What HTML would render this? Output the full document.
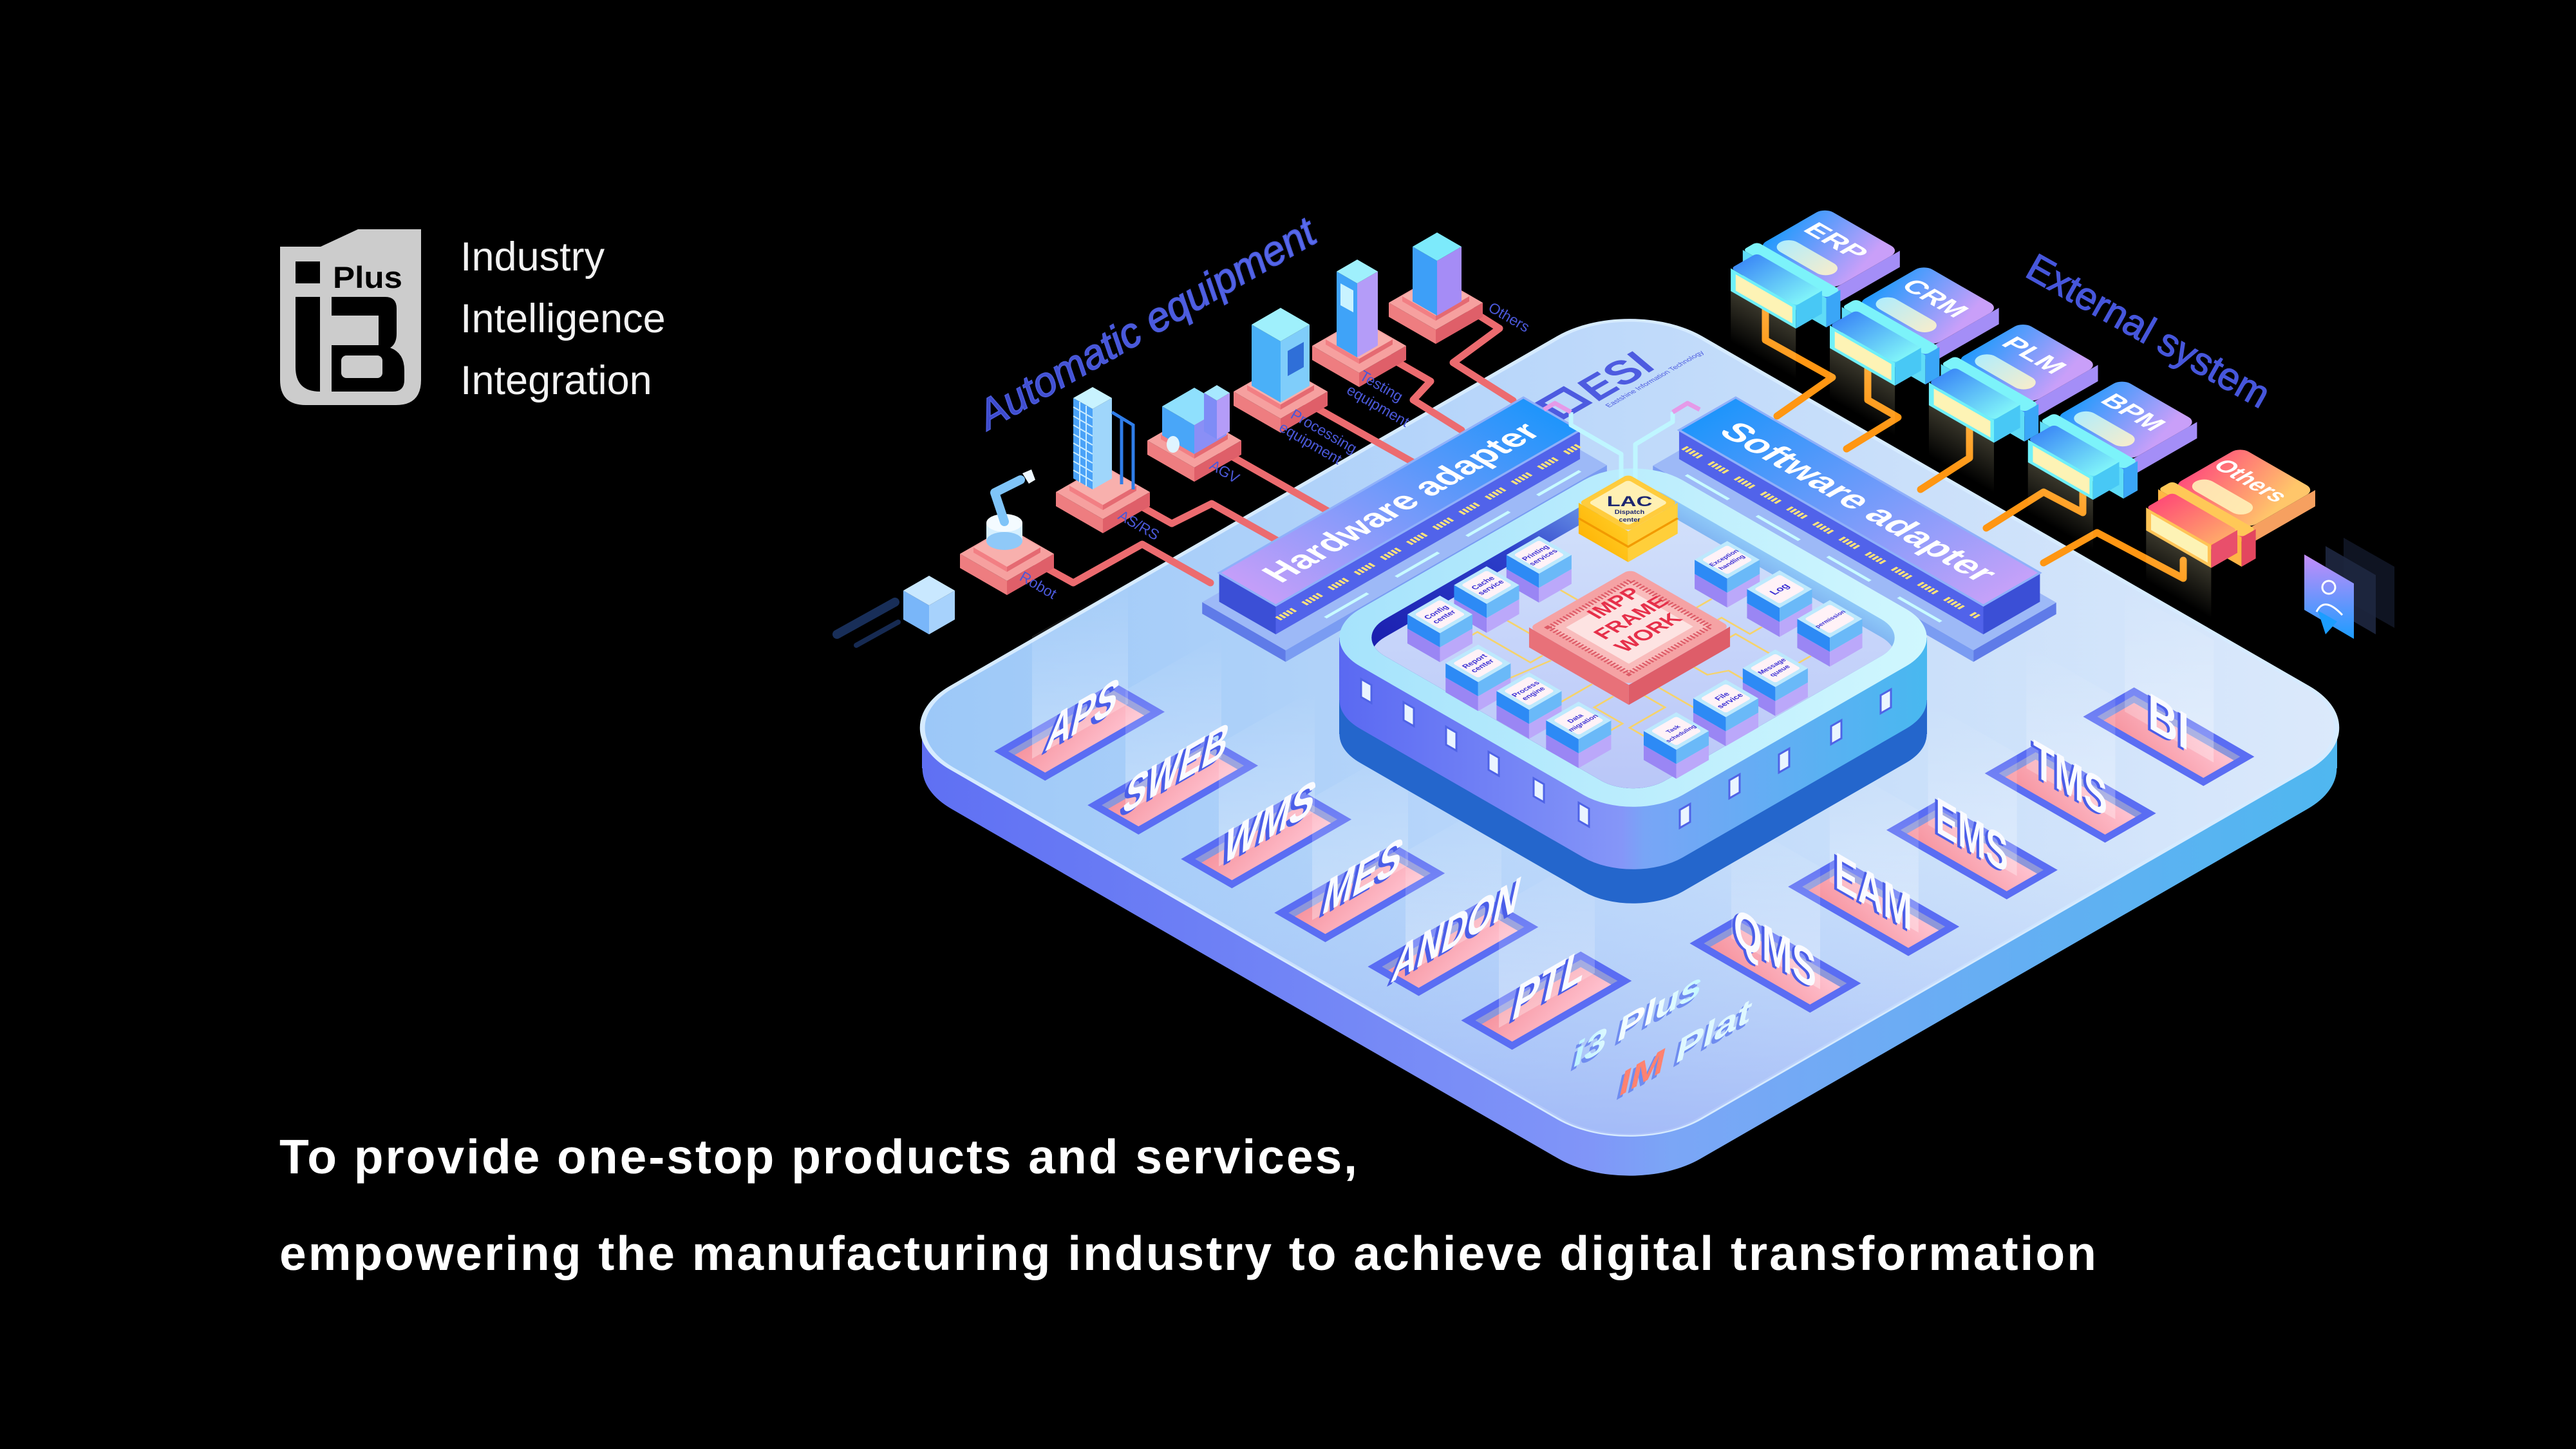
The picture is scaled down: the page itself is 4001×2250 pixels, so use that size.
<!DOCTYPE html>
<html><head><meta charset="utf-8"><title>i3 Plus</title>
<style>
html,body{margin:0;padding:0;background:#000;width:4001px;height:2250px;overflow:hidden}
svg{display:block}
text{font-family:"Liberation Sans",Arial,sans-serif}
</style></head><body>
<svg xmlns="http://www.w3.org/2000/svg" width="4001" height="2250" viewBox="0 0 4001 2250">
<defs>
<linearGradient id="platTop" gradientUnits="userSpaceOnUse" x1="0" y1="0" x2="1000" y2="1000"><stop offset="0" stop-color="#9cc8f8"/><stop offset="0.45" stop-color="#bcd8fa"/><stop offset="1" stop-color="#dbe9fb"/></linearGradient>
<linearGradient id="platB" gradientUnits="userSpaceOnUse" x1="0" y1="1000" x2="1000" y2="0"><stop offset="0" stop-color="#8ea2f6" stop-opacity="0.55"/><stop offset="0.35" stop-color="#a8c4f8" stop-opacity="0"/></linearGradient>
<linearGradient id="platSideP" gradientUnits="userSpaceOnUse" x1="0" y1="0" x2="1000" y2="1000"><stop offset="0" stop-color="#5f70f3"/><stop offset="0.47" stop-color="#8095f8"/><stop offset="0.53" stop-color="#7ba6f6"/><stop offset="1" stop-color="#4fb7f0"/></linearGradient>
<linearGradient id="platSideS" gradientUnits="userSpaceOnUse" x1="1432" y1="0" x2="3630" y2="0"><stop offset="0" stop-color="#5f70f3"/><stop offset="0.47" stop-color="#8095f8"/><stop offset="0.53" stop-color="#7ba6f6"/><stop offset="1" stop-color="#4fb7f0"/></linearGradient>
<linearGradient id="blkSideP" gradientUnits="userSpaceOnUse" x1="405" y1="184" x2="821" y2="600"><stop offset="0" stop-color="#5a69f2"/><stop offset="0.48" stop-color="#8596f8"/><stop offset="0.52" stop-color="#78a5f6"/><stop offset="1" stop-color="#48b8f0"/></linearGradient>
<linearGradient id="blkSideS" gradientUnits="userSpaceOnUse" x1="2080" y1="0" x2="2993" y2="0"><stop offset="0" stop-color="#5a69f2"/><stop offset="0.48" stop-color="#8596f8"/><stop offset="0.52" stop-color="#78a5f6"/><stop offset="1" stop-color="#48b8f0"/></linearGradient>
<linearGradient id="rim" gradientUnits="userSpaceOnUse" x1="385" y1="164" x2="841" y2="620"><stop offset="0" stop-color="#a4e2fc"/><stop offset="1" stop-color="#d2f8fe"/></linearGradient>
<linearGradient id="wall" x1="0" y1="0" x2="1" y2="0"><stop offset="0" stop-color="#1a1eae"/><stop offset="0.55" stop-color="#2d3fca"/><stop offset="1" stop-color="#8ec8f8"/></linearGradient>
<linearGradient id="floor" x1="0" y1="1" x2="1" y2="0"><stop offset="0" stop-color="#b7c4f8"/><stop offset="1" stop-color="#d3e2fb"/></linearGradient>
<linearGradient id="hwTop" x1="0" y1="0" x2="1" y2="0"><stop offset="0" stop-color="#c59ef9"/><stop offset="1" stop-color="#1e95fb"/></linearGradient>
<linearGradient id="swTop" x1="0" y1="0" x2="0" y2="1"><stop offset="0" stop-color="#1e95fb"/><stop offset="1" stop-color="#c6a1f9"/></linearGradient>
<linearGradient id="cardTop" x1="0" y1="0" x2="0.3" y2="1"><stop offset="0" stop-color="#1a9afd"/><stop offset="1" stop-color="#c99ff9"/></linearGradient>
<linearGradient id="othTop" x1="0" y1="0" x2="0.3" y2="1"><stop offset="0" stop-color="#ff4a7c"/><stop offset="1" stop-color="#ffc66a"/></linearGradient>
<linearGradient id="plugTop" x1="0" y1="0" x2="0" y2="1"><stop offset="0" stop-color="#3d8cf7"/><stop offset="1" stop-color="#80f4f9"/></linearGradient>
<linearGradient id="plugTopO" x1="0" y1="0" x2="0" y2="1"><stop offset="0" stop-color="#ff4d76"/><stop offset="1" stop-color="#ffa86a"/></linearGradient>
<linearGradient id="pill" x1="0" y1="0" x2="0" y2="1"><stop offset="0" stop-color="#bff6fb"/><stop offset="1" stop-color="#fff6c8"/></linearGradient>
<linearGradient id="pgl" x1="1" y1="0" x2="0" y2="0"><stop offset="0" stop-color="#fff5c0" stop-opacity="0.22"/><stop offset="1" stop-color="#fff5c0" stop-opacity="0"/></linearGradient>
<linearGradient id="pink" x1="0" y1="0" x2="1" y2="1"><stop offset="0" stop-color="#f6949f"/><stop offset="1" stop-color="#ffc3d1"/></linearGradient>
<linearGradient id="beam" x1="0" y1="0" x2="0" y2="1"><stop offset="0" stop-color="#ffffff" stop-opacity="0"/><stop offset="1" stop-color="#ffffff" stop-opacity="0.32"/></linearGradient>
<linearGradient id="autoG" x1="0" y1="0" x2="1" y2="0"><stop offset="0" stop-color="#3c49cc"/><stop offset="1" stop-color="#5a6cf0"/></linearGradient>
<linearGradient id="chat" x1="0" y1="0" x2="0" y2="1"><stop offset="0" stop-color="#c58cf9"/><stop offset="1" stop-color="#1c9dff"/></linearGradient>
<linearGradient id="lacL" x1="0" y1="0" x2="1" y2="1"><stop offset="0" stop-color="#ffb000"/><stop offset="1" stop-color="#ffd02a"/></linearGradient>
<linearGradient id="i3g" x1="0" y1="0" x2="1" y2="0"><stop offset="0" stop-color="#b9f2ff"/><stop offset="0.5" stop-color="#ffffff"/><stop offset="1" stop-color="#c4f7ff"/></linearGradient>
<clipPath id="innerClip"><rect x="415" y="194" width="396" height="396" rx="45"/></clipPath>
<g id="mod">
 <polygon points="-40.4,-5.6 -40.4,40.4 -58.6,58.6 -58.6,12.6" fill="#9a86f4"/>
 <polygon points="-40.4,40.4 5.6,40.4 -12.6,58.6 -58.6,58.6" fill="#bba8fa"/>
 <polygon points="-23,-23 -23,23 -40.4,40.4 -40.4,-5.6" fill="#2d8af5"/>
 <polygon points="-23,23 23,23 5.6,40.4 -40.4,40.4" fill="#6ab9f8"/>
 <rect x="-23" y="-23" width="46" height="46" fill="#bde9fd"/>
 <rect x="-18" y="-18" width="36" height="36" rx="3" fill="#fff2f7"/>
</g>
<g id="base">
 <polygon points="-73,0 0,42 0,64 -73,22" fill="#ee7d80"/>
 <polygon points="0,42 73,0 73,22 0,64" fill="#df5f69"/>
 <polygon points="-73,0 0,-42 73,0 0,42" fill="#f6a09f"/>
 <polygon points="-52,-10 0,20 0,28 -52,-2" fill="#f27f84"/>
 <polygon points="0,20 52,-10 52,-2 0,28" fill="#e56a72"/>
 <polygon points="-52,-10 0,-40 52,-10 0,20" fill="#f8b0ad"/>
</g>
<g id="cardBody">
 <polygon points="1107,-17 1107,75 1045,137 1045,45" fill="url(#pgl)"/>
 <polygon points="1181,-53 1181,53 1161,73 1161,-33" fill="#3d86f3"/>
 <polygon points="1181,53 1276,53 1256,73 1161,73" fill="#a48ef7"/>
 <rect x="1181" y="-53" width="95" height="106" rx="12" fill="url(#cardTop)"/>
 <rect x="1190" y="-42" width="24" height="76" rx="12" fill="url(#pill)" opacity="0.9"/>
 <polygon points="1166,-59 1166,59 1130,95 1130,-23" fill="#5fdcf7"/>
 <polygon points="1166,59 1186,59 1150,95 1130,95" fill="#3aa6f7"/>
 <rect x="1166" y="-59" width="20" height="118" rx="5" fill="#7cf3fa"/>
 <polygon points="1135,-45 1135,47 1107,75 1107,-17" fill="#6ff0f9"/>
 <polygon points="1131,-34 1131,46 1111,66 1111,-14" fill="#fdf3b5"/>
 <polygon points="1135,47 1172,47 1144,75 1107,75" fill="#48c8f5"/>
 <rect x="1135" y="-45" width="37" height="92" rx="5" fill="url(#plugTop)"/>
</g>
<g id="cardOth">
 <polygon points="1107,-17 1107,75 1045,137 1045,45" fill="url(#pgl)"/>
 <polygon points="1181,-53 1181,53 1161,73 1161,-33" fill="#f04a70"/>
 <polygon points="1181,53 1276,53 1256,73 1161,73" fill="#f6a060"/>
 <rect x="1181" y="-53" width="95" height="106" rx="12" fill="url(#othTop)"/>
 <rect x="1190" y="-42" width="24" height="76" rx="12" fill="#fff1b8" opacity="0.9"/>
 <polygon points="1166,-59 1166,59 1130,95 1130,-23" fill="#ffb545"/>
 <polygon points="1166,59 1186,59 1150,95 1130,95" fill="#e3465f"/>
 <rect x="1166" y="-59" width="20" height="118" rx="5" fill="#ffc857"/>
 <polygon points="1135,-45 1135,47 1107,75 1107,-17" fill="#ffc457"/>
 <polygon points="1131,-34 1131,46 1111,66 1111,-14" fill="#fdf3b5"/>
 <polygon points="1135,47 1172,47 1144,75 1107,75" fill="#e94f6b"/>
 <rect x="1135" y="-45" width="37" height="92" rx="5" fill="url(#plugTopO)"/>
</g>
</defs>
<rect width="4001" height="2250" fill="#000"/>

<!-- LOGO -->
<path d="M435,383 L498,383 L556,356 L654,356 L654,590 Q654,629 615,629 L475,629 Q435,629 435,590 Z" fill="#cccccc"/>
<rect x="459" y="406" width="38" height="34" fill="#000"/>
<text x="517" y="447" font-size="47" font-weight="bold" fill="#000" textLength="108" lengthAdjust="spacingAndGlyphs">Plus</text>
<path d="M459,461 H497 V608 Q459,608 459,570 Z" fill="#000"/>
<path d="M515,461 H598 Q616,461 616,479 V518 Q616,534 606,540 Q628,548 628,575 V590 Q628,608 610,608 H515 Z" fill="#000"/>
<rect x="515" y="490" width="73" height="46" fill="#cccccc"/>
<rect x="530" y="552" width="64" height="35" rx="8" fill="#cccccc"/>
<text x="715" y="420" font-size="63" font-weight="300" fill="#f2f2f2">Industry</text>
<text x="715" y="516" font-size="63" font-weight="300" fill="#f2f2f2">Intelligence</text>
<text x="715" y="612" font-size="63" font-weight="300" fill="#f2f2f2">Integration</text>

<!-- bottom text -->
<text x="434" y="1822" font-size="75" font-weight="bold" fill="#fff" textLength="1674" lengthAdjust="spacing">To provide one-stop products and services,</text>
<text x="434" y="1972" font-size="75" font-weight="bold" fill="#fff" textLength="2822" lengthAdjust="spacing">empowering the manufacturing industry to achieve digital transformation</text>

<!-- titles -->
<text transform="translate(1535,668) rotate(-29.8)" font-size="64" font-style="italic" fill="url(#autoG)" stroke="#4a5ad9" stroke-width="1.8" textLength="592" lengthAdjust="spacingAndGlyphs">Automatic equipment</text>
<text transform="translate(3143,428) rotate(29.4)" font-size="60" fill="#4656db" stroke="#4656db" stroke-width="1.4" textLength="422" lengthAdjust="spacingAndGlyphs">External system</text>

<!-- left cube -->
<line x1="1300" y1="985" x2="1390" y2="935" stroke="#1f3a6e" stroke-width="14" stroke-linecap="round" opacity="0.8"/>
<line x1="1330" y1="1002" x2="1395" y2="966" stroke="#162a52" stroke-width="8" stroke-linecap="round"/>
<polygon points="1403,917 1443,940 1443,985 1403,962" fill="#79b6f9"/>
<polygon points="1443,940 1483,917 1483,962 1443,985" fill="#a7d2fc"/>
<polygon points="1403,917 1443,894 1483,917 1443,940" fill="#c9e8ff"/>

<!-- PLATFORM -->
<g transform="translate(0,63) matrix(1.099,-0.633,1.099,0.633,1432,1130)"><rect x="-29" y="-29" width="1058" height="1058" rx="100" fill="url(#platSideP)"/></g>
<rect x="1432" y="1130" width="2198" height="63" fill="url(#platSideS)"/>
<g transform="matrix(1.099,-0.633,1.099,0.633,1432,1130)">
 <rect x="-29" y="-29" width="1058" height="1058" rx="100" fill="url(#platTop)" stroke="#d6ebff" stroke-width="5"/>
 <rect x="-29" y="-29" width="1058" height="1058" rx="100" fill="url(#platB)"/>
 <rect x="835" y="38" width="34" height="34" fill="none" stroke="#4d5be0" stroke-width="7"/>
 <text x="878" y="78" font-size="55" font-weight="bold" font-style="italic" fill="#4d5be0" textLength="85" lengthAdjust="spacingAndGlyphs">ESI</text>
 <text x="878" y="93" font-size="9" fill="#4d5be0">Eastshine Information Technology</text>
 <g id="ls">
  <rect x="22" y="80" width="169" height="72" fill="#5a6df3"/>
  <rect x="32" y="90" width="149" height="52" fill="#8e97d9"/>
  <rect x="32" y="99" width="140" height="43" fill="url(#pink)"/>
 </g>
 <use href="#ls" transform="translate(0,132)"/>
 <use href="#ls" transform="translate(0,264)"/>
 <use href="#ls" transform="translate(0,396)"/>
 <use href="#ls" transform="translate(0,528)"/>
 <use href="#ls" transform="translate(0,660)"/>
 <g id="rs">
  <rect x="278" y="807" width="72" height="170" fill="#5a6df3"/>
  <rect x="288" y="817" width="52" height="150" fill="#8e97d9"/>
  <rect x="288" y="826" width="43" height="141" fill="url(#pink)"/>
 </g>
 <use href="#rs" transform="translate(139,0)"/>
 <use href="#rs" transform="translate(278,0)"/>
 <use href="#rs" transform="translate(417,0)"/>
 <use href="#rs" transform="translate(556,0)"/>
</g>

<!-- beams -->
<g fill="url(#beam)">
<polygon points="1603,1178 1752,1093 1752,903 1603,988"/>
<polygon points="1748,1261.6 1897,1176.6 1897,986.6 1748,1071.6"/>
<polygon points="1893,1345.2 2042,1260.2 2042,1070.2 1893,1155.2"/>
<polygon points="2038,1428.8 2187,1343.8 2187,1153.8 2038,1238.8"/>
<polygon points="2183,1512.4 2332,1427.4 2332,1237.4 2183,1322.4"/>
<polygon points="2328,1596 2477,1511 2477,1321 2328,1406"/>
<polygon points="2689,1457 2827,1536 2827,1346 2689,1267"/>
<polygon points="2841.8,1369 2979.8,1448 2979.8,1258 2841.8,1179"/>
<polygon points="2994.6,1281 3132.6,1360 3132.6,1170 2994.6,1091"/>
<polygon points="3147.4,1193 3285.4,1272 3285.4,1082 3147.4,1003"/>
<polygon points="3300.2,1105 3438.2,1184 3438.2,994 3300.2,915"/>
</g>

<!-- orange cables -->
<g fill="none" stroke="#ff9612" stroke-width="11" stroke-linejoin="round" stroke-linecap="round">
<polyline points="2742,470 2742,528 2846,586 2760,646"/>
<polyline points="2901,560 2901,621 2948,648 2868,697"/>
<polyline points="3059,660 3059,711 2983,760"/>
<polyline points="3235,760 3235,796 3174,764 3085,820"/>
<polyline points="3391,870 3391,898 3257,827 3174,874"/>
</g>
<!-- red cables -->
<g fill="none" stroke="#ec6b6f" stroke-width="11" stroke-linejoin="round" stroke-linecap="round">
<polyline points="1598,867 1667,905 1774,845 1880,905"/>
<polyline points="1752,775 1820,813 1882,782 1985,840"/>
<polyline points="1889,695 2065,795"/>
<polyline points="2019,619 2195,718"/>
<polyline points="2142,546 2222,592 2195,621 2270,668"/>
<polyline points="2272,474 2329,510 2257,563 2350,622"/>
</g>

<!-- ADAPTERS -->
<g transform="matrix(1.099,-0.633,1.099,0.633,1432,1130)">
 <polygon points="352,44 352,162 337.8,176.2 337.8,58.2" fill="#5f7be8"/>
 <polygon points="352,162 806,162 791.8,176.2 337.8,176.2" fill="#7a9cf2"/>
 <rect x="352" y="44" width="454" height="118" fill="#9db9f7"/>
 <line x1="420" y1="150" x2="780" y2="150" stroke="#c8fbff" stroke-width="4" stroke-dasharray="60 40"/>
 <polygon points="400,20 400,100 364.5,135.5 364.5,55.5" fill="#3b4fd6"/>
 <polygon points="400,100 830,100 794.5,135.5 364.5,135.5" fill="#5163ea"/>
 <line x1="385" y1="118" x2="810" y2="118" stroke="#ffe37a" stroke-width="8" stroke-dasharray="3 2 3 2 3 2 3 2 3 14"/>
 <rect x="400" y="20" width="430" height="80" fill="url(#hwTop)" stroke="#8fb0fa" stroke-width="3"/>
 <text x="615" y="77" font-size="44" font-weight="bold" fill="#fff" text-anchor="middle" textLength="370" lengthAdjust="spacingAndGlyphs">Hardware adapter</text>
 <polygon points="838,195 838,648 823.8,662.2 823.8,209.2" fill="#7a9cf2"/>
 <polygon points="838,648 955,648 940.8,662.2 823.8,662.2" fill="#5f7be8"/>
 <rect x="838" y="195" width="117" height="453" fill="#9db9f7"/>
 <line x1="850" y1="230" x2="850" y2="620" stroke="#c8fbff" stroke-width="4" stroke-dasharray="60 40"/>
 <polygon points="900,170 900,600 864.5,635.5 864.5,205.5" fill="#5163ea"/>
 <polygon points="900,600 980,600 944.5,635.5 864.5,635.5" fill="#3b4fd6"/>
 <line x1="882" y1="195" x2="882" y2="610" stroke="#ffe37a" stroke-width="8" stroke-dasharray="3 2 3 2 3 2 3 2 3 14"/>
 <rect x="900" y="170" width="80" height="430" fill="url(#swTop)" stroke="#8fb0fa" stroke-width="3"/>
 <text transform="translate(924,385) rotate(90)" font-size="44" font-weight="bold" fill="#fff" text-anchor="middle" textLength="370" lengthAdjust="spacingAndGlyphs">Software adapter</text>
</g>

<!-- CENTRAL BLOCK -->
<g transform="translate(0,150) matrix(1.099,-0.633,1.099,0.633,1432,1130)"><rect x="385" y="164" width="456" height="456" rx="70" fill="#2466cc"/></g>
<rect x="2080" y="1087" width="913" height="53" fill="#2466cc"/>
<g transform="translate(0,97) matrix(1.099,-0.633,1.099,0.633,1432,1130)"><rect x="385" y="164" width="456" height="456" rx="70" fill="url(#blkSideP)"/></g>
<rect x="2080" y="990" width="913" height="97" fill="url(#blkSideS)"/>
<g fill="#eaf5ff" stroke="#4f63e6" stroke-width="3">
<polygon points="2114,1054.4 2130,1063.6 2130,1091.6 2114,1082.4"/>
<polygon points="2180,1090.4 2196,1099.6 2196,1127.6 2180,1118.4"/>
<polygon points="2246,1128.4 2262,1137.6 2262,1165.6 2246,1156.4"/>
<polygon points="2312,1167.4 2328,1176.6 2328,1204.6 2312,1195.4"/>
<polygon points="2382,1208.4 2398,1217.6 2398,1245.6 2382,1236.4"/>
<polygon points="2452,1246.4 2468,1255.6 2468,1283.6 2452,1274.4"/>
<polygon points="2609,1257.6 2625,1248.4 2625,1276.4 2609,1285.6"/>
<polygon points="2686,1211.6 2702,1202.4 2702,1230.4 2686,1239.6"/>
<polygon points="2763,1171.6 2779,1162.4 2779,1190.4 2763,1199.6"/>
<polygon points="2844,1127.6 2860,1118.4 2860,1146.4 2844,1155.6"/>
<polygon points="2921,1079.6 2937,1070.4 2937,1098.4 2921,1107.6"/>
</g>
<g transform="matrix(1.099,-0.633,1.099,0.633,1432,1130)">
 <rect x="385" y="164" width="456" height="456" rx="70" fill="url(#rim)"/>
 <rect x="415" y="194" width="396" height="396" rx="45" fill="url(#wall)"/>
 <g clip-path="url(#innerClip)"><rect x="393" y="216" width="396" height="396" rx="45" fill="url(#floor)"/></g>
 <g fill="none" stroke="#f6d36a" stroke-width="2.4">
  <polyline points="492,275 510,275 510,350 527,350"/>
  <polyline points="545,282 545,330"/>
  <polyline points="620,282 620,330"/>
  <polyline points="716,400 670,400"/>
  <polyline points="717,470 700,470 700,430 670,430"/>
  <polyline points="716,540 690,540 690,460 670,460"/>
  <polyline points="459,352 527,362"/>
  <polyline points="461,420 527,420"/>
  <polyline points="460,490 500,490 500,450 527,450"/>
  <polyline points="500,549 500,500 550,500 550,471"/>
  <polyline points="570,544 570,471"/>
  <polyline points="640,542 640,500 620,490 620,471"/>
 </g>
</g>
<g fill="none" stroke-linejoin="round">
<polyline points="2518,745 2518,705 2440,660 2440,640" stroke="#bff6ff" stroke-width="7"/>
<polyline points="2540,745 2540,690 2598,655 2598,640" stroke="#bff6ff" stroke-width="7"/>
<polyline points="2440,640 2415,626 2398,636" stroke="#e59ae8" stroke-width="7"/>
<polyline points="2598,640 2621,626 2640,636" stroke="#e59ae8" stroke-width="7"/>
</g>
<g transform="matrix(1.099,-0.633,1.099,0.633,1432,1130)">
 <polygon points="740,188 740,258 702.1,295.9 702.1,225.9" fill="url(#lacL)"/>
 <polygon points="740,258 810,258 772.1,295.9 702.1,295.9" fill="#ffcf3a"/>
 <polyline points="721,207 721,277 791,277" fill="none" stroke="#f29a00" stroke-width="3"/>
 <rect x="740" y="188" width="70" height="70" rx="6" fill="#ffcc3d"/>
 <rect x="747" y="195" width="56" height="56" rx="4" fill="#fff0b3"/>
 <g font-weight="bold" fill="#3a2fd3" text-anchor="middle">
 <g transform="translate(648,224)"><use href="#mod"/><text y="-2" font-size="9">Printing</text><text y="9" font-size="9">services</text></g>
 <g transform="translate(775,363)"><use href="#mod"/><text y="-2" font-size="8">Exception</text><text y="9" font-size="8">handling</text></g>
 <g transform="translate(574,224)"><use href="#mod"/><text y="-2" font-size="9.5">Cache</text><text y="9" font-size="9.5">service</text></g>
 <g transform="translate(776,436)"><use href="#mod"/><text y="4" font-size="12">Log</text></g>
 <g transform="translate(505,227)"><use href="#mod"/><text y="-2" font-size="9.5">Config</text><text y="9" font-size="9.5">center</text></g>
 <g transform="translate(775,508)"><use href="#mod"/><text y="3" font-size="7.5">permission</text></g>
 </g>
 <polygon points="552,306 552,447 527.5,471.5 527.5,330.5" fill="#e87179"/>
 <polygon points="552,447 695,447 670.5,471.5 527.5,471.5" fill="#de5d69"/>
 <rect x="552" y="306" width="143" height="141" rx="8" fill="#f5a2a4"/>
 <rect x="566" y="320" width="115" height="113" fill="#f9bcbc" stroke="#dd5a66" stroke-width="7" stroke-dasharray="2 2.5"/>
 <rect x="578" y="332" width="91" height="89" fill="#fde3e2"/>
 <g font-weight="bold" fill="#e6304a" text-anchor="middle" font-size="26">
  <text x="642" y="345">IMPP</text><text x="636" y="375">FRAME</text><text x="630" y="405">WORK</text>
 </g>
 <g font-weight="bold" fill="#3a2fd3" text-anchor="middle">
 <g transform="translate(472,314)"><use href="#mod"/><text y="-2" font-size="9.5">Report</text><text y="9" font-size="9.5">center</text></g>
 <g transform="translate(676,530)"><use href="#mod"/><text y="-2" font-size="8.5">Message</text><text y="9" font-size="8.5">queue</text></g>
 <g transform="translate(474,384)"><use href="#mod"/><text y="-2" font-size="9">Process</text><text y="9" font-size="9">engine</text></g>
 <g transform="translate(604,532)"><use href="#mod"/><text y="-2" font-size="9.5">File</text><text y="9" font-size="9.5">service</text></g>
 <g transform="translate(473,455)"><use href="#mod"/><text y="-2" font-size="8.5">Data</text><text y="9" font-size="8.5">migration</text></g>
 <g transform="translate(529,537)"><use href="#mod"/><text y="-2" font-size="7.5">Task</text><text y="9" font-size="7.5">scheduling</text></g>
 </g>
</g>
<g font-weight="bold" fill="#1d2670" text-anchor="middle">
<text transform="translate(2531,786) scale(1.15,0.75)" font-size="30">LAC</text>
<text transform="translate(2531,798) scale(1,0.8)" font-size="11">Dispatch</text>
<text transform="translate(2531,810) scale(1,0.8)" font-size="11">center</text>
</g>

<!-- EXTERNAL CARDS -->
<g transform="matrix(1.099,-0.633,1.099,0.633,1432,1130)">
 <g transform="translate(0,53)"><use href="#cardBody"/><text transform="translate(1232,-4) rotate(90)" font-size="32" font-weight="bold" fill="#fff" text-anchor="middle" textLength="75" lengthAdjust="spacingAndGlyphs">ERP</text></g>
 <g transform="translate(0,193)"><use href="#cardBody"/><text transform="translate(1232,-4) rotate(90)" font-size="32" font-weight="bold" fill="#fff" text-anchor="middle" textLength="78" lengthAdjust="spacingAndGlyphs">CRM</text></g>
 <g transform="translate(0,333)"><use href="#cardBody"/><text transform="translate(1232,-4) rotate(90)" font-size="32" font-weight="bold" fill="#fff" text-anchor="middle" textLength="75" lengthAdjust="spacingAndGlyphs">PLM</text></g>
 <g transform="translate(0,473)"><use href="#cardBody"/><text transform="translate(1232,-4) rotate(90)" font-size="32" font-weight="bold" fill="#fff" text-anchor="middle" textLength="75" lengthAdjust="spacingAndGlyphs">BPM</text></g>
 <g transform="translate(0,640)"><use href="#cardOth"/><text transform="translate(1232,-4) rotate(90)" font-size="30" font-weight="bold" fill="#fff" text-anchor="middle" textLength="90" lengthAdjust="spacingAndGlyphs">Others</text></g>
</g>

<!-- EQUIPMENT -->
<use href="#base" transform="translate(2230,470)"/>
<use href="#base" transform="translate(2111,537)"/>
<use href="#base" transform="translate(1989,608)"/>
<use href="#base" transform="translate(1855,684)"/>
<use href="#base" transform="translate(1713,764)"/>
<use href="#base" transform="translate(1564,860)"/>
<polygon points="2194,383 2232,405 2232,490 2194,468" fill="#3d9ff8"/>
<polygon points="2232,405 2270,383 2270,468 2232,490" fill="#a58cf6"/>
<polygon points="2194,383 2232,361 2270,383 2232,405" fill="#7ceafb"/>
<polygon points="2076,421.5 2108,440 2108,555 2076,536.5" fill="#3fa3f8"/>
<polygon points="2108,440 2140,421.5 2140,536.5 2108,555" fill="#b49cf8"/>
<polygon points="2076,421.5 2108,403 2140,421.5 2108,440" fill="#9ff0fc"/>
<polygon points="2082,440 2102,451 2102,485 2082,474" fill="#c9f3ff"/>
<polygon points="1944,504 1989,530 1989,625 1944,599" fill="#4ab0f8"/>
<polygon points="1989,530 2034,504 2034,599 1989,625" fill="#7fcdfa"/>
<polygon points="1944,504 1989,478 2034,504 1989,530" fill="#9ff0fc"/>
<polygon points="2000,545 2025,531 2025,570 2000,584" fill="#2f6fd8"/>
<polygon points="1805,631 1855,660 1855,705 1805,676" fill="#49a6f8"/>
<polygon points="1855,660 1905,631 1905,676 1855,705" fill="#8a8ff6"/>
<polygon points="1805,631 1855,602 1905,631 1855,660" fill="#8fe0fd"/>
<polygon points="1870,610 1890,622 1890,682 1870,670" fill="#7f8cf6"/>
<polygon points="1890,622 1910,610 1910,670 1890,682" fill="#b49cf8"/>
<polygon points="1870,610 1890,598 1910,610 1890,622" fill="#a7e8ff"/>
<ellipse cx="1822" cy="690" rx="10" ry="13" fill="#dff4ff"/>
<polygon points="1667,618 1697,635 1697,760 1667,743" fill="#4aa2f8"/>
<polygon points="1697,635 1727,618 1727,743 1697,760" fill="#9fd6fb"/>
<polygon points="1667,618 1697,601 1727,618 1697,635" fill="#c8f3ff"/>
<path d="M1667,632 L1697,649 M1667,646 L1697,663 M1667,660 L1697,677 M1667,674 L1697,691 M1667,688 L1697,705 M1667,702 L1697,719 M1667,716 L1697,733 M1667,730 L1697,747 M1677,624 V749 M1687,630 V755" stroke="#c9ecff" stroke-width="2" fill="none"/>
<path d="M1727,640 L1760,660 L1760,760 M1742,650 V752" stroke="#2f7de8" stroke-width="5" fill="none"/>
<rect x="1532" y="812" width="56" height="28" fill="#d6f0ff"/>
<ellipse cx="1560" cy="840" rx="28" ry="14" fill="#8fc9f8"/>
<ellipse cx="1560" cy="812" rx="28" ry="14" fill="#f4fbff"/>
<polyline points="1560,810 1545,765 1585,745" fill="none" stroke="#7fc4f8" stroke-width="14" stroke-linecap="round" stroke-linejoin="round"/>
<path d="M1588,735 l14,-6 l6,16 l-10,6 Z" fill="#eef8ff"/>
<g font-size="23" fill="#4a58d8">
<text transform="translate(1582,900) rotate(30)">Robot</text>
<text transform="translate(1735,805) rotate(30)">AS/RS</text>
<text transform="translate(1877,727) rotate(30)">AGV</text>
<text transform="translate(2003,648) rotate(30)">Processing</text>
<text transform="translate(1985,668) rotate(30)">equipment</text>
<text transform="translate(2110,588) rotate(30)">Testing</text>
<text transform="translate(2090,610) rotate(30)">equipment</text>
<text transform="translate(2310,482) rotate(30)">Others</text>
</g>

<!-- SLOT LABELS -->
<g font-size="80" font-weight="bold" text-anchor="middle">
<g transform="translate(1676.5,1136) matrix(0.866,-0.5,-0.22,1,0,0)"><text x="-6" y="3" fill="#4b5ee8" textLength="126" lengthAdjust="spacingAndGlyphs">APS</text><text fill="#fafbff" textLength="126" lengthAdjust="spacingAndGlyphs">APS</text></g>
<g transform="translate(1821.5,1219.6) matrix(0.866,-0.5,-0.22,1,0,0)"><text x="-6" y="3" fill="#4b5ee8" textLength="186" lengthAdjust="spacingAndGlyphs">SWEB</text><text fill="#fafbff" textLength="186" lengthAdjust="spacingAndGlyphs">SWEB</text></g>
<g transform="translate(1966.5,1303.2) matrix(0.866,-0.5,-0.22,1,0,0)"><text x="-6" y="3" fill="#4b5ee8" textLength="163" lengthAdjust="spacingAndGlyphs">WMS</text><text fill="#fafbff" textLength="163" lengthAdjust="spacingAndGlyphs">WMS</text></g>
<g transform="translate(2111.5,1386.8) matrix(0.866,-0.5,-0.22,1,0,0)"><text x="-6" y="3" fill="#4b5ee8" textLength="140" lengthAdjust="spacingAndGlyphs">MES</text><text fill="#fafbff" textLength="140" lengthAdjust="spacingAndGlyphs">MES</text></g>
<g transform="translate(2256.5,1470.4) matrix(0.866,-0.5,-0.22,1,0,0)"><text x="-6" y="3" fill="#4b5ee8" textLength="226" lengthAdjust="spacingAndGlyphs">ANDON</text><text fill="#fafbff" textLength="226" lengthAdjust="spacingAndGlyphs">ANDON</text></g>
<g transform="translate(2401.5,1554) matrix(0.866,-0.5,-0.22,1,0,0)"><text x="-6" y="3" fill="#4b5ee8" textLength="129" lengthAdjust="spacingAndGlyphs">PTL</text><text fill="#fafbff" textLength="129" lengthAdjust="spacingAndGlyphs">PTL</text></g>
<g transform="translate(2757,1500) matrix(0.866,0.5,0,1,0,0)"><text x="-5" y="4" fill="#4b5ee8" textLength="148" lengthAdjust="spacingAndGlyphs">QMS</text><text fill="#fafbff" textLength="148" lengthAdjust="spacingAndGlyphs">QMS</text></g>
<g transform="translate(2909.8,1412) matrix(0.866,0.5,0,1,0,0)"><text x="-5" y="4" fill="#4b5ee8" textLength="139" lengthAdjust="spacingAndGlyphs">EAM</text><text fill="#fafbff" textLength="139" lengthAdjust="spacingAndGlyphs">EAM</text></g>
<g transform="translate(3062.6,1324) matrix(0.866,0.5,0,1,0,0)"><text x="-5" y="4" fill="#4b5ee8" textLength="130" lengthAdjust="spacingAndGlyphs">EMS</text><text fill="#fafbff" textLength="130" lengthAdjust="spacingAndGlyphs">EMS</text></g>
<g transform="translate(3215.4,1236) matrix(0.866,0.5,0,1,0,0)"><text x="-5" y="4" fill="#4b5ee8" textLength="133" lengthAdjust="spacingAndGlyphs">TMS</text><text fill="#fafbff" textLength="133" lengthAdjust="spacingAndGlyphs">TMS</text></g>
<g transform="translate(3368.2,1148) matrix(0.866,0.5,0,1,0,0)"><text x="-5" y="4" fill="#4b5ee8" textLength="74" lengthAdjust="spacingAndGlyphs">BI</text><text fill="#fafbff" textLength="74" lengthAdjust="spacingAndGlyphs">BI</text></g>
</g>
<!-- i3 Plus IM Plat -->
<g font-size="56" font-weight="bold" text-anchor="middle">
<g transform="translate(2540,1602) matrix(0.866,-0.5,-0.22,1,0,0)"><text x="-5" y="4" fill="#6f8cf0" textLength="230" lengthAdjust="spacingAndGlyphs">i3 Plus</text><text fill="url(#i3g)" textLength="230" lengthAdjust="spacingAndGlyphs">i3 Plus</text></g>
<g transform="translate(2614,1645) matrix(0.866,-0.5,-0.22,1,0,0)"><text x="-5" y="4" fill="#6f8cf0" textLength="236" lengthAdjust="spacingAndGlyphs">IM Plat</text><text textLength="236" lengthAdjust="spacingAndGlyphs"><tspan fill="#ff8270">IM</tspan><tspan fill="#dff8ff"> Plat</tspan></text></g>
</g>

<!-- chat icon -->
<polygon points="3640,835 3719,880 3719,975 3640,930" fill="#0f1422"/>
<polygon points="3612,848 3690,893 3690,985 3612,940" fill="#1e2740" opacity="0.9"/>
<polygon points="3579,861 3656,906 3656,992 3579,947" fill="url(#chat)"/>
<polygon points="3600,948 3630,965 3612,985" fill="#1c9dff"/>
<circle cx="3617" cy="912" r="10" fill="none" stroke="#fff" stroke-width="3"/>
<path d="M3598,950 Q3610,925 3638,955" fill="none" stroke="#fff" stroke-width="3"/>
</svg>
</body></html>
